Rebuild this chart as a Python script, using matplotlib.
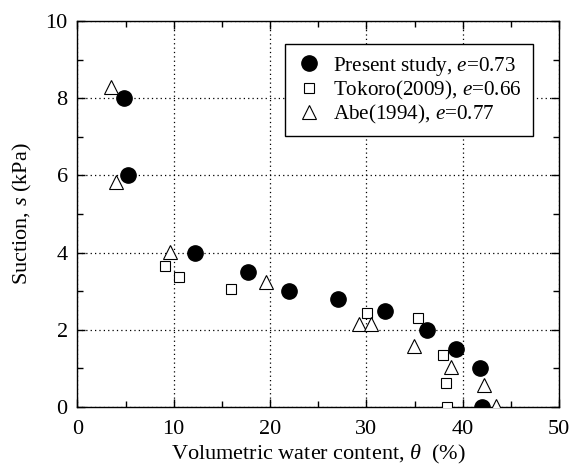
import matplotlib
matplotlib.use("Agg")
from matplotlib import pyplot as plt
from matplotlib.ticker import MultipleLocator

plt.rcParams["font.family"] = "Liberation Serif"
plt.rcParams["mathtext.fontset"] = "custom"
plt.rcParams["mathtext.rm"] = "Liberation Serif"
plt.rcParams["mathtext.it"] = "Liberation Serif:italic"

# Present study, e = 0.73
present_theta = [4.8, 5.3, 12.2, 17.7, 22.0, 27.1, 31.9, 36.3, 39.3, 41.8, 42.0]
present_suction = [8.0, 6.0, 4.0, 3.5, 3.0, 2.8, 2.5, 2.0, 1.5, 1.0, 0.0]

# Tokoro (2009), e = 0.66
tokoro_theta = [9.1, 10.6, 16.0, 30.1, 35.4, 38.0, 38.3, 38.4]
tokoro_suction = [3.65, 3.37, 3.06, 2.44, 2.30, 1.35, 0.62, 0.0]

# Abe (1994), e = 0.77
abe_theta = [3.5, 4.0, 9.6, 19.6, 29.2, 30.5, 34.9, 38.8, 42.2, 43.5]
abe_suction = [8.3, 5.83, 4.02, 3.25, 2.16, 2.16, 1.59, 1.04, 0.58, 0.03]

fig = plt.figure(figsize=(5.73, 4.75), dpi=100)
ax = fig.add_axes([0.135, 0.143, 0.8406, 0.813])

ax.plot(present_theta, present_suction, "o", color="black", markersize=11,
        label="Present study, $e$=0.73", zorder=3)
ax.plot(tokoro_theta, tokoro_suction, "s", markerfacecolor="white",
        markeredgecolor="black", markeredgewidth=0.8, markersize=7,
        label="Tokoro(2009), $e$=0.66", zorder=3)
ax.plot(abe_theta, abe_suction, "^", markerfacecolor="white",
        markeredgecolor="black", markeredgewidth=0.8, markersize=10,
        label="Abe(1994), $e$=0.77", zorder=3)

ax.set_xlim(0, 50)
ax.set_ylim(0, 10)
ax.xaxis.set_major_locator(MultipleLocator(10))
ax.xaxis.set_minor_locator(MultipleLocator(5))
ax.yaxis.set_major_locator(MultipleLocator(2))
ax.yaxis.set_minor_locator(MultipleLocator(1))
ax.tick_params(which="both", direction="in", top=True, right=True,
               labelsize=16, width=1)
ax.tick_params(which="major", length=6)
ax.tick_params(axis="x", which="major", pad=9)
ax.tick_params(axis="y", which="major", pad=7)
ax.tick_params(which="minor", length=4)
ax.grid(which="major", linestyle=(0, (1, 2.5)), color="black", linewidth=0.9)
for spine in ax.spines.values():
    spine.set_linewidth(1)

ax.set_xlabel(r"Volumetric water content, $\theta$  (%)", fontsize=16, labelpad=3)
ax.set_ylabel("Suction, $s$ (kPa)", fontsize=16, labelpad=8)

leg = ax.legend(loc="upper right", bbox_to_anchor=(0.945, 0.94), borderaxespad=0,
                numpoints=1, fontsize=15.2, frameon=True, fancybox=False,
                framealpha=1, edgecolor="black", handletextpad=0.49,
                borderpad=0.5, labelspacing=0.05, handlelength=1.3)
leg.get_frame().set_linewidth(1)

fig.savefig("out.png", dpi=100)
